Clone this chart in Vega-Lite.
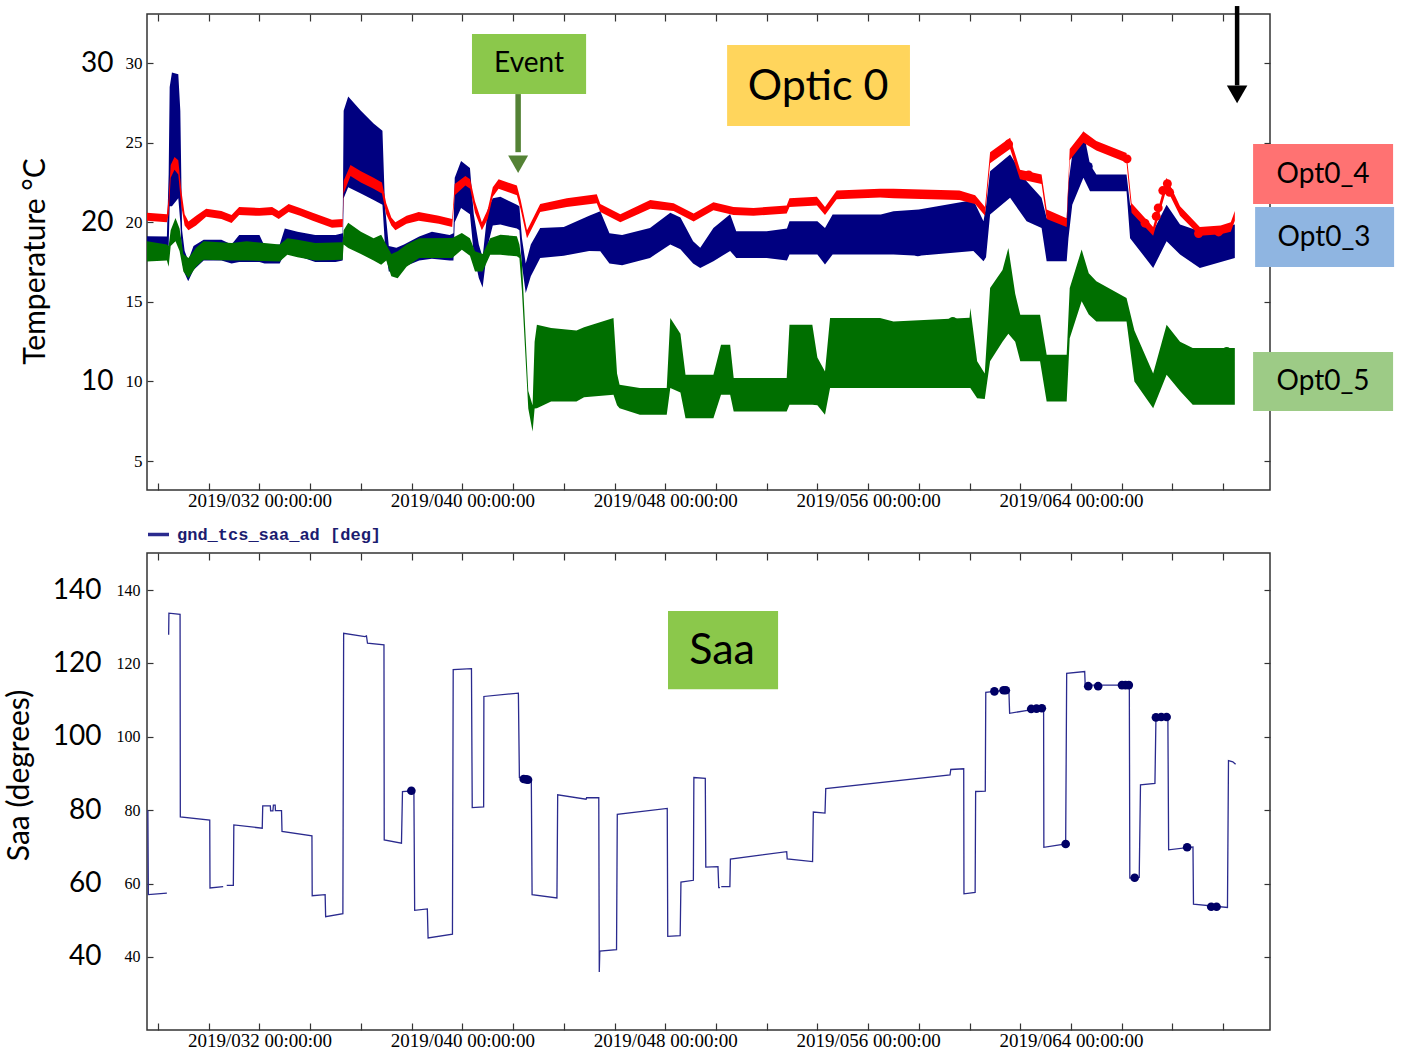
{
  "$schema": "https://vega.github.io/schema/vega-lite/v6.json",
  "background": "white",
  "padding": {"left": 3, "top": 3, "right": 5, "bottom": 5},
  "config": {
    "view": {"stroke": "#333333", "strokeWidth": 1.5},
    "axis": {"grid": false, "domain": false, "tickColor": "#333333", "tickWidth": 1.2, "labelColor": "#000000", "titleColor": "#000000"}
  },
  "datasets": {
    "temps": [
      {"s":"Opt0_3","day":27.566,"lo":17.75,"hi":19.12},{"s":"Opt0_3","day":28.35,"lo":17.8,"hi":19.1},{"s":"Opt0_3","day":28.42,"lo":18.5,"hi":23.0},{"s":"Opt0_3","day":28.46,"lo":21.0,"hi":28.5},{"s":"Opt0_3","day":28.55,"lo":21.0,"hi":29.4},{"s":"Opt0_3","day":28.8,"lo":21.5,"hi":29.3},{"s":"Opt0_3","day":28.88,"lo":20.0,"hi":27.0},{"s":"Opt0_3","day":28.95,"lo":17.5,"hi":19.5},{"s":"Opt0_3","day":29.05,"lo":16.8,"hi":18.2},{"s":"Opt0_3","day":29.19,"lo":16.3,"hi":17.6},{"s":"Opt0_3","day":29.4,"lo":17.0,"hi":18.5},{"s":"Opt0_3","day":29.8,"lo":17.6,"hi":18.9},{"s":"Opt0_3","day":30.5,"lo":17.6,"hi":18.9},{"s":"Opt0_3","day":30.9,"lo":17.4,"hi":18.6},{"s":"Opt0_3","day":31.2,"lo":17.5,"hi":19.2},{"s":"Opt0_3","day":32.0,"lo":17.5,"hi":19.2},{"s":"Opt0_3","day":32.2,"lo":17.4,"hi":18.5},{"s":"Opt0_3","day":32.8,"lo":17.4,"hi":18.6},{"s":"Opt0_3","day":33.0,"lo":18.1,"hi":19.6},{"s":"Opt0_3","day":33.5,"lo":17.9,"hi":19.4},{"s":"Opt0_3","day":34.2,"lo":17.5,"hi":19.2},{"s":"Opt0_3","day":35.0,"lo":17.5,"hi":19.2},{"s":"Opt0_3","day":35.28,"lo":17.6,"hi":19.3},{"s":"Opt0_3","day":35.32,"lo":21.5,"hi":27.0},{"s":"Opt0_3","day":35.5,"lo":22.2,"hi":27.9},{"s":"Opt0_3","day":36.0,"lo":21.8,"hi":27.0},{"s":"Opt0_3","day":36.5,"lo":21.4,"hi":26.2},{"s":"Opt0_3","day":36.85,"lo":21.1,"hi":25.75},{"s":"Opt0_3","day":36.95,"lo":18.5,"hi":21.0},{"s":"Opt0_3","day":37.1,"lo":16.9,"hi":18.5},{"s":"Opt0_3","day":37.4,"lo":16.9,"hi":18.4},{"s":"Opt0_3","day":37.7,"lo":17.2,"hi":18.6},{"s":"Opt0_3","day":38.3,"lo":17.6,"hi":19.1},{"s":"Opt0_3","day":38.8,"lo":17.7,"hi":19.4},{"s":"Opt0_3","day":39.5,"lo":17.6,"hi":19.2},{"s":"Opt0_3","day":39.65,"lo":17.6,"hi":19.3},{"s":"Opt0_3","day":39.7,"lo":20.0,"hi":22.8},{"s":"Opt0_3","day":39.95,"lo":20.9,"hi":23.85},{"s":"Opt0_3","day":40.3,"lo":20.5,"hi":23.4},{"s":"Opt0_3","day":40.45,"lo":18.0,"hi":20.5},{"s":"Opt0_3","day":40.65,"lo":16.5,"hi":18.6},{"s":"Opt0_3","day":40.8,"lo":15.9,"hi":17.8},{"s":"Opt0_3","day":41.0,"lo":18.5,"hi":20.8},{"s":"Opt0_3","day":41.2,"lo":19.8,"hi":21.5},{"s":"Opt0_3","day":41.5,"lo":19.85,"hi":21.6},{"s":"Opt0_3","day":42.15,"lo":19.6,"hi":21.1},{"s":"Opt0_3","day":42.25,"lo":19.5,"hi":21.0},{"s":"Opt0_3","day":42.35,"lo":17.3,"hi":19.0},{"s":"Opt0_3","day":42.5,"lo":15.56,"hi":17.4},{"s":"Opt0_3","day":42.7,"lo":16.6,"hi":18.6},{"s":"Opt0_3","day":43.07,"lo":17.76,"hi":19.64},{"s":"Opt0_3","day":44.0,"lo":17.9,"hi":19.7},{"s":"Opt0_3","day":45.0,"lo":18.2,"hi":20.4},{"s":"Opt0_3","day":45.44,"lo":18.18,"hi":20.69},{"s":"Opt0_3","day":45.8,"lo":17.4,"hi":19.3},{"s":"Opt0_3","day":46.3,"lo":17.3,"hi":19.2},{"s":"Opt0_3","day":47.4,"lo":17.76,"hi":19.64},{"s":"Opt0_3","day":48.2,"lo":18.6,"hi":20.59},{"s":"Opt0_3","day":48.6,"lo":18.3,"hi":20.3},{"s":"Opt0_3","day":49.1,"lo":17.4,"hi":18.8},{"s":"Opt0_3","day":49.38,"lo":17.13,"hi":18.4},{"s":"Opt0_3","day":49.9,"lo":17.55,"hi":19.64},{"s":"Opt0_3","day":50.56,"lo":18.2,"hi":20.5},{"s":"Opt0_3","day":50.8,"lo":17.76,"hi":19.43},{"s":"Opt0_3","day":52.0,"lo":17.76,"hi":19.43},{"s":"Opt0_3","day":52.8,"lo":17.6,"hi":19.6},{"s":"Opt0_3","day":52.9,"lo":17.97,"hi":20.06},{"s":"Opt0_3","day":54.0,"lo":17.97,"hi":20.06},{"s":"Opt0_3","day":54.3,"lo":17.34,"hi":19.64},{"s":"Opt0_3","day":54.6,"lo":17.97,"hi":20.48},{"s":"Opt0_3","day":56.5,"lo":17.97,"hi":20.48},{"s":"Opt0_3","day":57.0,"lo":17.97,"hi":20.69},{"s":"Opt0_3","day":58.0,"lo":17.9,"hi":20.8},{"s":"Opt0_3","day":60.15,"lo":18.2,"hi":21.4},{"s":"Opt0_3","day":60.55,"lo":17.55,"hi":20.06},{"s":"Opt0_3","day":60.65,"lo":17.8,"hi":21.0},{"s":"Opt0_3","day":60.81,"lo":20.48,"hi":23.2},{"s":"Opt0_3","day":61.6,"lo":21.53,"hi":24.26},{"s":"Opt0_3","day":62.25,"lo":20.06,"hi":22.58},{"s":"Opt0_3","day":62.84,"lo":19.64,"hi":21.53},{"s":"Opt0_3","day":63.04,"lo":17.55,"hi":20.27},{"s":"Opt0_3","day":63.83,"lo":17.55,"hi":20.27},{"s":"Opt0_3","day":63.9,"lo":19.0,"hi":22.5},{"s":"Opt0_3","day":64.05,"lo":21.1,"hi":24.26},{"s":"Opt0_3","day":64.49,"lo":22.79,"hi":25.72},{"s":"Opt0_3","day":64.75,"lo":21.95,"hi":23.63},{"s":"Opt0_3","day":65.0,"lo":21.95,"hi":23.0},{"s":"Opt0_3","day":66.19,"lo":21.95,"hi":23.0},{"s":"Opt0_3","day":66.33,"lo":19.0,"hi":21.1},{"s":"Opt0_3","day":67.24,"lo":17.13,"hi":19.43},{"s":"Opt0_3","day":67.77,"lo":18.8,"hi":21.1},{"s":"Opt0_3","day":68.3,"lo":17.97,"hi":19.85},{"s":"Opt0_3","day":69.08,"lo":17.13,"hi":19.43},{"s":"Opt0_3","day":70.46,"lo":17.76,"hi":19.85},

      {"s":"Opt0_4","day":27.566,"lo":20.1,"hi":20.6},{"s":"Opt0_4","day":28.35,"lo":20.0,"hi":20.5},{"s":"Opt0_4","day":28.42,"lo":20.5,"hi":21.5},{"s":"Opt0_4","day":28.5,"lo":22.8,"hi":23.6},{"s":"Opt0_4","day":28.65,"lo":23.3,"hi":24.1},{"s":"Opt0_4","day":28.8,"lo":23.0,"hi":23.9},{"s":"Opt0_4","day":28.92,"lo":21.0,"hi":22.0},{"s":"Opt0_4","day":29.05,"lo":19.8,"hi":20.5},{"s":"Opt0_4","day":29.2,"lo":19.5,"hi":20.05},{"s":"Opt0_4","day":29.5,"lo":19.8,"hi":20.4},{"s":"Opt0_4","day":29.9,"lo":20.35,"hi":20.85},{"s":"Opt0_4","day":30.5,"lo":20.2,"hi":20.7},{"s":"Opt0_4","day":30.9,"lo":19.95,"hi":20.45},{"s":"Opt0_4","day":31.2,"lo":20.45,"hi":20.95},{"s":"Opt0_4","day":32.0,"lo":20.4,"hi":20.9},{"s":"Opt0_4","day":32.5,"lo":20.45,"hi":20.95},{"s":"Opt0_4","day":32.76,"lo":20.2,"hi":20.7},{"s":"Opt0_4","day":33.15,"lo":20.65,"hi":21.15},{"s":"Opt0_4","day":33.6,"lo":20.4,"hi":20.9},{"s":"Opt0_4","day":34.1,"lo":20.1,"hi":20.6},{"s":"Opt0_4","day":34.86,"lo":19.65,"hi":20.15},{"s":"Opt0_4","day":35.28,"lo":19.7,"hi":20.2},{"s":"Opt0_4","day":35.32,"lo":21.8,"hi":22.6},{"s":"Opt0_4","day":35.59,"lo":22.9,"hi":23.6},{"s":"Opt0_4","day":36.0,"lo":22.5,"hi":23.2},{"s":"Opt0_4","day":36.5,"lo":22.1,"hi":22.8},{"s":"Opt0_4","day":36.83,"lo":21.8,"hi":22.5},{"s":"Opt0_4","day":37.0,"lo":20.5,"hi":21.2},{"s":"Opt0_4","day":37.2,"lo":19.8,"hi":20.3},{"s":"Opt0_4","day":37.36,"lo":19.5,"hi":20.0},{"s":"Opt0_4","day":37.8,"lo":19.9,"hi":20.4},{"s":"Opt0_4","day":38.28,"lo":20.1,"hi":20.65},{"s":"Opt0_4","day":39.07,"lo":19.9,"hi":20.4},{"s":"Opt0_4","day":39.6,"lo":19.7,"hi":20.2},{"s":"Opt0_4","day":39.7,"lo":21.7,"hi":22.4},{"s":"Opt0_4","day":40.12,"lo":22.3,"hi":22.9},{"s":"Opt0_4","day":40.31,"lo":22.1,"hi":22.7},{"s":"Opt0_4","day":40.5,"lo":20.6,"hi":21.3},{"s":"Opt0_4","day":40.77,"lo":19.5,"hi":20.0},{"s":"Opt0_4","day":41.0,"lo":20.2,"hi":20.8},{"s":"Opt0_4","day":41.2,"lo":21.6,"hi":22.2},{"s":"Opt0_4","day":41.43,"lo":22.1,"hi":22.7},{"s":"Opt0_4","day":42.15,"lo":21.7,"hi":22.3},{"s":"Opt0_4","day":42.3,"lo":20.8,"hi":21.4},{"s":"Opt0_4","day":42.55,"lo":19.0,"hi":19.5},{"s":"Opt0_4","day":43.07,"lo":20.65,"hi":21.15},{"s":"Opt0_4","day":44.12,"lo":20.95,"hi":21.5},{"s":"Opt0_4","day":45.3,"lo":21.2,"hi":21.75},{"s":"Opt0_4","day":45.44,"lo":20.65,"hi":21.15},{"s":"Opt0_4","day":46.23,"lo":20.0,"hi":20.5},{"s":"Opt0_4","day":47.41,"lo":20.85,"hi":21.4},{"s":"Opt0_4","day":48.33,"lo":20.7,"hi":21.2},{"s":"Opt0_4","day":49.12,"lo":20.05,"hi":20.55},{"s":"Opt0_4","day":49.9,"lo":20.75,"hi":21.25},{"s":"Opt0_4","day":50.69,"lo":20.45,"hi":20.95},{"s":"Opt0_4","day":51.48,"lo":20.4,"hi":20.9},{"s":"Opt0_4","day":52.79,"lo":20.55,"hi":21.05},{"s":"Opt0_4","day":52.9,"lo":20.95,"hi":21.5},{"s":"Opt0_4","day":53.98,"lo":21.05,"hi":21.6},{"s":"Opt0_4","day":54.3,"lo":20.45,"hi":20.95},{"s":"Opt0_4","day":54.76,"lo":21.45,"hi":22.0},{"s":"Opt0_4","day":56.47,"lo":21.55,"hi":22.1},{"s":"Opt0_4","day":57.0,"lo":21.5,"hi":22.1},{"s":"Opt0_4","day":59.6,"lo":21.4,"hi":22.0},{"s":"Opt0_4","day":60.22,"lo":21.15,"hi":21.7},{"s":"Opt0_4","day":60.61,"lo":20.4,"hi":20.95},{"s":"Opt0_4","day":60.81,"lo":23.7,"hi":24.4},{"s":"Opt0_4","day":61.6,"lo":24.6,"hi":25.3},{"s":"Opt0_4","day":61.99,"lo":22.7,"hi":23.3},{"s":"Opt0_4","day":62.84,"lo":22.4,"hi":23.0},{"s":"Opt0_4","day":63.04,"lo":20.2,"hi":20.8},{"s":"Opt0_4","day":63.83,"lo":19.7,"hi":20.25},{"s":"Opt0_4","day":63.95,"lo":23.9,"hi":24.6},{"s":"Opt0_4","day":64.49,"lo":25.0,"hi":25.7},{"s":"Opt0_4","day":65.0,"lo":24.5,"hi":25.1},{"s":"Opt0_4","day":66.19,"lo":23.75,"hi":24.35},{"s":"Opt0_4","day":66.39,"lo":20.6,"hi":21.2},{"s":"Opt0_4","day":67.24,"lo":19.15,"hi":19.7},{"s":"Opt0_4","day":67.77,"lo":22.1,"hi":22.8},{"s":"Opt0_4","day":68.3,"lo":20.4,"hi":21.0},{"s":"Opt0_4","day":69.08,"lo":19.15,"hi":19.7},{"s":"Opt0_4","day":69.9,"lo":19.25,"hi":19.8},{"s":"Opt0_4","day":70.3,"lo":19.4,"hi":20.0},{"s":"Opt0_4","day":70.46,"lo":20.1,"hi":20.7},

      {"s":"Opt0_5","day":27.566,"lo":17.54,"hi":18.8},{"s":"Opt0_5","day":28.35,"lo":17.6,"hi":18.6},{"s":"Opt0_5","day":28.42,"lo":17.2,"hi":18.5},{"s":"Opt0_5","day":28.5,"lo":18.5,"hi":19.5},{"s":"Opt0_5","day":28.69,"lo":18.8,"hi":20.27},{"s":"Opt0_5","day":28.85,"lo":18.2,"hi":19.6},{"s":"Opt0_5","day":29.0,"lo":16.9,"hi":18.0},{"s":"Opt0_5","day":29.2,"lo":16.48,"hi":17.75},{"s":"Opt0_5","day":29.5,"lo":17.2,"hi":18.4},{"s":"Opt0_5","day":29.8,"lo":17.64,"hi":18.8},{"s":"Opt0_5","day":30.9,"lo":17.6,"hi":18.7},{"s":"Opt0_5","day":31.5,"lo":17.6,"hi":18.8},{"s":"Opt0_5","day":32.8,"lo":17.54,"hi":18.6},{"s":"Opt0_5","day":33.1,"lo":17.96,"hi":19.0},{"s":"Opt0_5","day":33.5,"lo":17.8,"hi":18.9},{"s":"Opt0_5","day":34.2,"lo":17.6,"hi":18.7},{"s":"Opt0_5","day":35.28,"lo":17.64,"hi":18.75},{"s":"Opt0_5","day":35.32,"lo":18.6,"hi":19.5},{"s":"Opt0_5","day":35.5,"lo":18.38,"hi":19.96},{"s":"Opt0_5","day":36.0,"lo":18.0,"hi":19.4},{"s":"Opt0_5","day":36.5,"lo":17.6,"hi":19.0},{"s":"Opt0_5","day":36.8,"lo":17.33,"hi":19.22},{"s":"Opt0_5","day":37.0,"lo":17.6,"hi":18.6},{"s":"Opt0_5","day":37.2,"lo":16.6,"hi":18.0},{"s":"Opt0_5","day":37.45,"lo":16.48,"hi":18.17},{"s":"Opt0_5","day":37.8,"lo":17.2,"hi":18.6},{"s":"Opt0_5","day":38.3,"lo":17.75,"hi":19.0},{"s":"Opt0_5","day":39.6,"lo":17.75,"hi":19.01},{"s":"Opt0_5","day":39.98,"lo":18.27,"hi":19.33},{"s":"Opt0_5","day":40.3,"lo":17.9,"hi":19.0},{"s":"Opt0_5","day":40.5,"lo":16.9,"hi":18.17},{"s":"Opt0_5","day":40.8,"lo":16.9,"hi":18.0},{"s":"Opt0_5","day":41.1,"lo":17.96,"hi":19.0},{"s":"Opt0_5","day":41.5,"lo":17.96,"hi":19.22},{"s":"Opt0_5","day":42.15,"lo":17.86,"hi":19.12},{"s":"Opt0_5","day":42.25,"lo":17.76,"hi":18.6},{"s":"Opt0_5","day":42.35,"lo":15.7,"hi":17.5},{"s":"Opt0_5","day":42.6,"lo":8.3,"hi":9.4},{"s":"Opt0_5","day":42.77,"lo":6.86,"hi":8.5},{"s":"Opt0_5","day":42.85,"lo":8.3,"hi":12.5},{"s":"Opt0_5","day":42.94,"lo":8.32,"hi":13.56},{"s":"Opt0_5","day":43.5,"lo":8.74,"hi":13.35},{"s":"Opt0_5","day":44.5,"lo":8.74,"hi":13.2},{"s":"Opt0_5","day":44.8,"lo":9.0,"hi":13.4},{"s":"Opt0_5","day":45.96,"lo":9.16,"hi":13.98},{"s":"Opt0_5","day":46.1,"lo":8.5,"hi":10.5},{"s":"Opt0_5","day":46.2,"lo":8.32,"hi":9.79},{"s":"Opt0_5","day":47.0,"lo":7.9,"hi":9.58},{"s":"Opt0_5","day":48.06,"lo":7.9,"hi":9.58},{"s":"Opt0_5","day":48.2,"lo":9.58,"hi":13.98},{"s":"Opt0_5","day":48.6,"lo":9.3,"hi":13.0},{"s":"Opt0_5","day":48.8,"lo":7.69,"hi":10.42},{"s":"Opt0_5","day":49.9,"lo":7.69,"hi":10.42},{"s":"Opt0_5","day":50.2,"lo":9.16,"hi":12.3},{"s":"Opt0_5","day":50.56,"lo":9.16,"hi":12.3},{"s":"Opt0_5","day":50.7,"lo":8.11,"hi":10.21},{"s":"Opt0_5","day":52.79,"lo":8.11,"hi":10.21},{"s":"Opt0_5","day":52.9,"lo":8.53,"hi":13.56},{"s":"Opt0_5","day":53.8,"lo":8.53,"hi":13.56},{"s":"Opt0_5","day":54.0,"lo":8.5,"hi":11.5},{"s":"Opt0_5","day":54.3,"lo":7.9,"hi":10.63},{"s":"Opt0_5","day":54.5,"lo":9.58,"hi":13.98},{"s":"Opt0_5","day":56.47,"lo":9.58,"hi":13.98},{"s":"Opt0_5","day":57.0,"lo":9.58,"hi":13.77},{"s":"Opt0_5","day":60.0,"lo":9.58,"hi":14.0},{"s":"Opt0_5","day":60.03,"lo":9.58,"hi":14.61},{"s":"Opt0_5","day":60.3,"lo":8.95,"hi":11.26},{"s":"Opt0_5","day":60.6,"lo":8.9,"hi":10.5},{"s":"Opt0_5","day":60.81,"lo":11.26,"hi":15.87},{"s":"Opt0_5","day":61.3,"lo":12.5,"hi":17.0},{"s":"Opt0_5","day":61.53,"lo":13.0,"hi":18.38},{"s":"Opt0_5","day":61.8,"lo":12.5,"hi":15.5},{"s":"Opt0_5","day":62.0,"lo":11.26,"hi":14.19},{"s":"Opt0_5","day":62.78,"lo":11.26,"hi":14.19},{"s":"Opt0_5","day":63.04,"lo":8.74,"hi":11.68},{"s":"Opt0_5","day":63.83,"lo":8.74,"hi":11.68},{"s":"Opt0_5","day":63.95,"lo":12.72,"hi":15.87},{"s":"Opt0_5","day":64.42,"lo":15.03,"hi":18.28},{"s":"Opt0_5","day":64.7,"lo":14.2,"hi":16.8},{"s":"Opt0_5","day":65.0,"lo":13.77,"hi":16.29},{"s":"Opt0_5","day":66.19,"lo":13.77,"hi":15.24},{"s":"Opt0_5","day":66.5,"lo":10.0,"hi":13.2},{"s":"Opt0_5","day":67.24,"lo":8.32,"hi":10.5},{"s":"Opt0_5","day":67.77,"lo":10.42,"hi":13.56},{"s":"Opt0_5","day":68.3,"lo":9.4,"hi":12.5},{"s":"Opt0_5","day":68.8,"lo":8.53,"hi":12.1},{"s":"Opt0_5","day":70.46,"lo":8.53,"hi":12.1}
    ],
    "tdots": [
      {"s":"Opt0_4","day":59.6,"t":21.67},{"s":"Opt0_4","day":61.54,"t":24.91},{"s":"Opt0_4","day":62.33,"t":22.97},{"s":"Opt0_4","day":66.21,"t":23.98},{"s":"Opt0_4","day":66.92,"t":19.94},{"s":"Opt0_4","day":67.36,"t":20.37},{"s":"Opt0_4","day":67.44,"t":20.9},{"s":"Opt0_4","day":67.62,"t":21.99},{"s":"Opt0_4","day":67.8,"t":22.42},{"s":"Opt0_4","day":67.89,"t":21.88},{"s":"Opt0_4","day":69.03,"t":19.29},{"s":"Opt0_4","day":69.82,"t":19.39},
      {"s":"Opt0_3","day":57.96,"t":18.14},{"s":"Opt0_3","day":64.68,"t":23.5},
      {"s":"Opt0_5","day":59.34,"t":13.77},{"s":"Opt0_5","day":70.14,"t":11.88}
    ],
    "tboxes": [
      {"name":"Event","d1":40.38,"d2":44.88,"t1":28.05,"t2":31.82,"dc":42.63,"tc":29.94},
      {"name":"Optic 0","d1":50.44,"d2":57.65,"t1":26.04,"t2":31.13,"dc":54.03,"tc":28.49},
      {"name":"Opt0_4","d1":71.18,"d2":76.7,"t1":21.14,"t2":24.91,"dc":73.94,"tc":22.96},
      {"name":"Opt0_3","d1":71.26,"d2":76.74,"t1":17.19,"t2":20.95,"dc":73.98,"tc":19.0},
      {"name":"Opt0_5","d1":71.18,"d2":76.7,"t1":8.14,"t2":11.85,"dc":73.94,"tc":9.96}
    ],
    "arrows": [
      {"name":"event","day":42.2,"t1":28.05,"t2":24.4,"head":23.64},
      {"name":"mark","day":70.55,"t1":33.58,"t2":28.6,"head":28.03}
    ],
    "saa": [
      {"seg":1,"day":27.6,"v":80.0},{"seg":1,"day":27.62,"v":57.0},{"seg":1,"day":28.35,"v":57.4},
      {"seg":2,"day":28.42,"v":127.8},{"seg":2,"day":28.43,"v":133.7},{"seg":2,"day":28.87,"v":133.4},{"seg":2,"day":28.88,"v":78.2},{"seg":2,"day":30.04,"v":77.3},{"seg":2,"day":30.05,"v":58.8},{"seg":2,"day":30.57,"v":59.2},
      {"seg":3,"day":30.71,"v":59.5},{"seg":3,"day":30.97,"v":59.5},{"seg":3,"day":30.99,"v":76.0},{"seg":3,"day":32.11,"v":75.1},{"seg":3,"day":32.13,"v":81.2},{"seg":3,"day":32.43,"v":81.2},{"seg":3,"day":32.44,"v":79.8},{"seg":3,"day":32.53,"v":79.8},{"seg":3,"day":32.55,"v":81.4},{"seg":3,"day":32.62,"v":81.4},{"seg":3,"day":32.63,"v":79.9},{"seg":3,"day":32.87,"v":79.9},{"seg":3,"day":32.89,"v":74.2},{"seg":3,"day":34.07,"v":73.0},{"seg":3,"day":34.08,"v":56.7},{"seg":3,"day":34.59,"v":57.0},{"seg":3,"day":34.61,"v":51.0},{"seg":3,"day":35.29,"v":51.8},{"seg":3,"day":35.32,"v":128.2},{"seg":3,"day":36.16,"v":127.3},{"seg":3,"day":36.22,"v":127.5},{"seg":3,"day":36.26,"v":125.5},{"seg":3,"day":36.91,"v":125.1},{"seg":3,"day":36.92,"v":71.9},{"seg":3,"day":37.6,"v":71.0},{"seg":3,"day":37.64,"v":85.1},{"seg":3,"day":38.09,"v":85.3},{"seg":3,"day":38.12,"v":52.7},{"seg":3,"day":38.62,"v":53.1},{"seg":3,"day":38.65,"v":45.2},{"seg":3,"day":39.61,"v":46.2},{"seg":3,"day":39.64,"v":118.3},{"seg":3,"day":40.36,"v":118.6},{"seg":3,"day":40.39,"v":80.7},{"seg":3,"day":40.84,"v":80.9},{"seg":3,"day":40.85,"v":111.0},{"seg":3,"day":42.21,"v":111.9},{"seg":3,"day":42.25,"v":88.9},{"seg":3,"day":42.72,"v":88.2},{"seg":3,"day":42.75,"v":57.0},{"seg":3,"day":43.73,"v":56.1},{"seg":3,"day":43.76,"v":84.2},{"seg":3,"day":44.88,"v":83.0},{"seg":3,"day":44.9,"v":83.4},{"seg":3,"day":45.38,"v":83.4},{"seg":3,"day":45.4,"v":35.9},{"seg":3,"day":45.42,"v":41.6},{"seg":3,"day":46.08,"v":42.0},{"seg":3,"day":46.11,"v":78.9},{"seg":3,"day":48.08,"v":80.5},{"seg":3,"day":48.1,"v":45.6},{"seg":3,"day":48.59,"v":45.8},{"seg":3,"day":48.62,"v":60.4},{"seg":3,"day":49.11,"v":60.9},{"seg":3,"day":49.13,"v":88.9},{"seg":3,"day":49.58,"v":88.7},{"seg":3,"day":49.6,"v":64.5},{"seg":3,"day":50.08,"v":64.6},{"seg":3,"day":50.11,"v":58.9},{"seg":3,"day":50.16,"v":58.9},
      {"seg":4,"day":50.21,"v":59.2},{"seg":4,"day":50.55,"v":59.2},{"seg":4,"day":50.57,"v":66.7},{"seg":4,"day":52.79,"v":68.7},{"seg":4,"day":52.81,"v":66.7},{"seg":4,"day":53.81,"v":66.0},{"seg":4,"day":53.84,"v":79.5},{"seg":4,"day":54.3,"v":79.2},{"seg":4,"day":54.33,"v":85.9},{"seg":4,"day":59.23,"v":89.6},{"seg":4,"day":59.26,"v":91.1},{"seg":4,"day":59.77,"v":91.3},{"seg":4,"day":59.78,"v":57.2},{"seg":4,"day":60.22,"v":57.6},{"seg":4,"day":60.24,"v":85.1},{"seg":4,"day":60.62,"v":85.2},{"seg":4,"day":60.64,"v":112.1},{"seg":4,"day":61.55,"v":112.8},{"seg":4,"day":61.58,"v":106.4},{"seg":4,"day":62.35,"v":107.3},{"seg":4,"day":62.92,"v":107.8},{"seg":4,"day":62.93,"v":69.9},{"seg":4,"day":63.79,"v":70.8},{"seg":4,"day":63.83,"v":117.3},{"seg":4,"day":64.54,"v":117.8},{"seg":4,"day":64.56,"v":114.1},{"seg":4,"day":66.3,"v":114.1},{"seg":4,"day":66.32,"v":61.5},{"seg":4,"day":66.69,"v":61.7},{"seg":4,"day":66.74,"v":86.9},{"seg":4,"day":67.31,"v":87.3},{"seg":4,"day":67.35,"v":105.3},{"seg":4,"day":67.82,"v":105.4},{"seg":4,"day":67.85,"v":69.2},{"seg":4,"day":68.81,"v":70.0},{"seg":4,"day":68.83,"v":54.4},{"seg":4,"day":70.17,"v":53.5},{"seg":4,"day":70.21,"v":93.5},{"seg":4,"day":70.38,"v":93.2},{"seg":4,"day":70.49,"v":92.5}
    ],
    "sdots": [
      {"day":37.99,"v":85.3},{"day":42.42,"v":88.5},{"day":42.52,"v":88.4},{"day":42.59,"v":88.3},{"day":60.98,"v":112.4},{"day":61.34,"v":112.7},{"day":61.43,"v":112.7},{"day":62.43,"v":107.6},{"day":62.64,"v":107.7},{"day":62.85,"v":107.8},{"day":63.79,"v":70.8},{"day":64.68,"v":113.8},{"day":65.07,"v":113.8},{"day":66.01,"v":114.1},{"day":66.15,"v":114.1},{"day":66.28,"v":114.1},{"day":66.51,"v":61.6},{"day":67.35,"v":105.3},{"day":67.56,"v":105.4},{"day":67.77,"v":105.4},{"day":68.58,"v":69.9},{"day":69.53,"v":53.7},{"day":69.74,"v":53.7}
    ],
    "sboxes": [
      {"name":"Saa","d1":48.11,"d2":52.45,"v1":113.0,"v2":134.28,"dc":50.24,"vc":123.4}
    ]
  },
  "vconcat": [
    {
      "width": 1123,
      "height": 476,
      "layer": [
        {
          "data": {"name": "temps"},
          "transform": [{"filter": "datum.s === 'Opt0_3'"}],
          "mark": {"type": "area", "color": "#000080"},
          "encoding": {
            "x": {"field": "day", "type": "quantitative", "scale": {"domain": [27.566, 71.847], "nice": false, "zero": false},
                  "axis": {"orient": "bottom", "values": [28,30,32,34,36,38,40,42,44,46,48,50,52,54,56,58,60,62,64,66,68,70], "labelExpr": "datum.value % 8 == 0 ? '2019/0' + datum.value + ' 00:00:00' : ''", "labelFont": "Liberation Serif", "labelFontSize": 19, "labelPadding": 8, "tickSize": -7, "labelOverlap": false, "labelFlush": false, "title": null}},
            "y": {"field": "lo", "type": "quantitative", "scale": {"domain": [3.18, 33.08], "nice": false, "zero": false},
                  "axis": {"orient": "left", "values": [5,10,15,20,25,30], "labelFont": "Liberation Serif", "labelFontSize": 17, "labelPadding": 11, "tickSize": -6, "title": null}},
            "y2": {"field": "hi"}
          }
        },
        {
          "data": {"name": "temps"},
          "transform": [{"filter": "datum.s === 'Opt0_5'"}],
          "mark": {"type": "area", "color": "#006f00"},
          "encoding": {
            "x": {"field": "day", "type": "quantitative", "scale": {"domain": [27.566, 71.847], "nice": false, "zero": false},
                  "axis": {"orient": "top", "values": [28,30,32,34,36,38,40,42,44,46,48,50,52,54,56,58,60,62,64,66,68,70], "labels": false, "tickSize": -7, "title": null}},
            "y": {"field": "lo", "type": "quantitative", "scale": {"domain": [3.18, 33.08], "nice": false, "zero": false},
                  "axis": {"orient": "right", "values": [5,10,15,20,25,30], "labels": false, "tickSize": -6, "title": null}},
            "y2": {"field": "hi"}
          }
        },
        {
          "data": {"name": "temps"},
          "transform": [{"filter": "datum.s === 'Opt0_4'"}],
          "mark": {"type": "area", "color": "#ff0000"},
          "encoding": {
            "x": {"field": "day", "type": "quantitative", "scale": {"domain": [27.566, 71.847], "nice": false, "zero": false}, "axis": null},
            "y": {"field": "lo", "type": "quantitative", "scale": {"domain": [3.18, 33.08], "nice": false, "zero": false},
                  "axis": {"orient": "left", "values": [10,20,30], "labelFont": "Lato", "labelFontSize": 28, "ticks": false, "offset": 34, "labelPadding": 0, "title": "Temperature  °C", "titleFont": "Lato", "titleFontSize": 30, "titleFontWeight": "normal", "titlePadding": 30, "titleY": 247}},
            "y2": {"field": "hi"}
          }
        },
        {
          "data": {"name": "tdots"},
          "mark": {"type": "circle", "size": 80, "opacity": 1},
          "encoding": {
            "x": {"field": "day", "type": "quantitative", "scale": {"domain": [27.566, 71.847], "nice": false, "zero": false}, "axis": null},
            "y": {"field": "t", "type": "quantitative", "scale": {"domain": [3.18, 33.08], "nice": false, "zero": false}, "axis": null},
            "color": {"field": "s", "type": "nominal", "scale": {"domain": ["Opt0_4","Opt0_3","Opt0_5"], "range": ["#ff0000","#000080","#006f00"]}, "legend": null}
          }
        },
        {
          "data": {"name": "tboxes"},
          "mark": {"type": "rect"},
          "encoding": {
            "x": {"field": "d1", "type": "quantitative", "scale": {"domain": [27.566, 71.847], "nice": false, "zero": false}, "axis": null},
            "x2": {"field": "d2"},
            "y": {"field": "t1", "type": "quantitative", "scale": {"domain": [3.18, 33.08], "nice": false, "zero": false}, "axis": null},
            "y2": {"field": "t2"},
            "fill": {"field": "name", "type": "nominal", "scale": {"domain": ["Event","Optic 0","Opt0_4","Opt0_3","Opt0_5"], "range": ["#8bc84b","#ffd55c","#ff7272","#8fb5e1","#9dcb86"]}, "legend": null}
          }
        },
        {
          "data": {"name": "tboxes"},
          "transform": [{"filter": "datum.name !== 'Optic 0'"}],
          "mark": {"type": "text", "font": "Lato", "fontSize": 28, "color": "#000000", "align": "center", "baseline": "middle"},
          "encoding": {
            "x": {"field": "dc", "type": "quantitative", "scale": {"domain": [27.566, 71.847], "nice": false, "zero": false}, "axis": null},
            "y": {"field": "tc", "type": "quantitative", "scale": {"domain": [3.18, 33.08], "nice": false, "zero": false}, "axis": null},
            "text": {"field": "name"}
          }
        },
        {
          "data": {"name": "tboxes"},
          "transform": [{"filter": "datum.name === 'Optic 0'"}],
          "mark": {"type": "text", "font": "Lato", "fontSize": 43, "color": "#000000", "align": "center", "baseline": "middle"},
          "encoding": {
            "x": {"field": "dc", "type": "quantitative", "scale": {"domain": [27.566, 71.847], "nice": false, "zero": false}, "axis": null},
            "y": {"field": "tc", "type": "quantitative", "scale": {"domain": [3.18, 33.08], "nice": false, "zero": false}, "axis": null},
            "text": {"field": "name"}
          }
        },
        {
          "data": {"name": "arrows"},
          "transform": [{"filter": "datum.name === 'event'"}],
          "mark": {"type": "rule", "color": "#548235", "strokeWidth": 5.5},
          "encoding": {
            "x": {"field": "day", "type": "quantitative", "scale": {"domain": [27.566, 71.847], "nice": false, "zero": false}, "axis": null},
            "y": {"field": "t1", "type": "quantitative", "scale": {"domain": [3.18, 33.08], "nice": false, "zero": false}, "axis": null},
            "y2": {"field": "t2"}
          }
        },
        {
          "data": {"name": "arrows"},
          "transform": [{"filter": "datum.name === 'mark'"}],
          "mark": {"type": "rule", "color": "#000000", "strokeWidth": 4.5},
          "encoding": {
            "x": {"field": "day", "type": "quantitative", "scale": {"domain": [27.566, 71.847], "nice": false, "zero": false}, "axis": null},
            "y": {"field": "t1", "type": "quantitative", "scale": {"domain": [3.18, 33.08], "nice": false, "zero": false}, "axis": null},
            "y2": {"field": "t2"}
          }
        },
        {
          "data": {"name": "arrows"},
          "transform": [{"filter": "datum.name === 'event'"}],
          "mark": {"type": "point", "shape": "triangle-down", "filled": true, "size": 400, "color": "#548235", "opacity": 1},
          "encoding": {
            "x": {"field": "day", "type": "quantitative", "scale": {"domain": [27.566, 71.847], "nice": false, "zero": false}, "axis": null},
            "y": {"field": "head", "type": "quantitative", "scale": {"domain": [3.18, 33.08], "nice": false, "zero": false}, "axis": null}
          }
        },
        {
          "data": {"name": "arrows"},
          "transform": [{"filter": "datum.name === 'mark'"}],
          "mark": {"type": "point", "shape": "triangle-down", "filled": true, "size": 420, "color": "#000000", "opacity": 1},
          "encoding": {
            "x": {"field": "day", "type": "quantitative", "scale": {"domain": [27.566, 71.847], "nice": false, "zero": false}, "axis": null},
            "y": {"field": "head", "type": "quantitative", "scale": {"domain": [3.18, 33.08], "nice": false, "zero": false}, "axis": null}
          }
        }
      ],
      "resolve": {"axis": {"x": "independent", "y": "independent"}}
    },
    {
      "width": 1123,
      "height": 477,
      "layer": [
        {
          "data": {"name": "saa"},
          "mark": {"type": "line", "strokeWidth": 1.3},
          "encoding": {
            "x": {"field": "day", "type": "quantitative", "scale": {"domain": [27.566, 71.847], "nice": false, "zero": false},
                  "axis": {"orient": "bottom", "values": [28,30,32,34,36,38,40,42,44,46,48,50,52,54,56,58,60,62,64,66,68,70], "labelExpr": "datum.value % 8 == 0 ? '2019/0' + datum.value + ' 00:00:00' : ''", "labelFont": "Liberation Serif", "labelFontSize": 19, "labelPadding": 8, "tickSize": -7, "labelOverlap": false, "labelFlush": false, "title": null}},
            "y": {"field": "v", "type": "quantitative", "scale": {"domain": [20.1, 150.1], "nice": false, "zero": false},
                  "axis": {"orient": "left", "values": [40,60,80,100,120,140], "labelFont": "Liberation Serif", "labelFontSize": 16, "labelPadding": 13, "tickSize": -6, "title": null}},
            "detail": {"field": "seg", "type": "nominal"},
            "color": {"datum": "gnd_tcs_saa_ad [deg]", "type": "nominal", "scale": {"range": ["#2a2a8e"]},
                      "legend": {"orient": "none", "legendX": -1, "legendY": -31, "title": null, "symbolType": "stroke", "symbolStrokeWidth": 3.5, "symbolSize": 440, "labelFont": "Liberation Mono", "labelFontSize": 17, "labelFontWeight": "bold", "labelColor": "#1c1c70", "labelLimit": 500, "padding": 0, "labelOffset": 6}}
          }
        },
        {
          "data": {"name": "sdots"},
          "mark": {"type": "circle", "size": 75, "color": "#000066", "opacity": 1},
          "encoding": {
            "x": {"field": "day", "type": "quantitative", "scale": {"domain": [27.566, 71.847], "nice": false, "zero": false},
                  "axis": {"orient": "top", "values": [28,30,32,34,36,38,40,42,44,46,48,50,52,54,56,58,60,62,64,66,68,70], "labels": false, "tickSize": -7, "title": null}},
            "y": {"field": "v", "type": "quantitative", "scale": {"domain": [20.1, 150.1], "nice": false, "zero": false},
                  "axis": {"orient": "right", "values": [40,60,80,100,120,140], "labels": false, "tickSize": -6, "title": null}}
          }
        },
        {
          "data": {"name": "sboxes"},
          "mark": {"type": "rect", "color": "#8bc84b"},
          "encoding": {
            "x": {"field": "d1", "type": "quantitative", "scale": {"domain": [27.566, 71.847], "nice": false, "zero": false}, "axis": null},
            "x2": {"field": "d2"},
            "y": {"field": "v1", "type": "quantitative", "scale": {"domain": [20.1, 150.1], "nice": false, "zero": false},
                  "axis": {"orient": "left", "values": [40,60,80,100,120,140], "labelFont": "Lato", "labelFontSize": 28, "ticks": false, "offset": 46, "labelPadding": 0, "title": "Saa (degrees)", "titleFont": "Lato", "titleFontSize": 30, "titleFontWeight": "normal", "titlePadding": 18, "titleY": 222}},
            "y2": {"field": "v2"}
          }
        },
        {
          "data": {"name": "sboxes"},
          "mark": {"type": "text", "font": "Lato", "fontSize": 43, "color": "#000000", "align": "center", "baseline": "middle"},
          "encoding": {
            "x": {"field": "dc", "type": "quantitative", "scale": {"domain": [27.566, 71.847], "nice": false, "zero": false}, "axis": null},
            "y": {"field": "vc", "type": "quantitative", "scale": {"domain": [20.1, 150.1], "nice": false, "zero": false}, "axis": null},
            "text": {"field": "name"}
          }
        }
      ],
      "resolve": {"axis": {"x": "independent", "y": "independent"}}
    }
  ],
  "spacing": 10,
  "resolve": {"scale": {"color": "independent", "fill": "independent"}, "legend": {"color": "independent"}}
}
